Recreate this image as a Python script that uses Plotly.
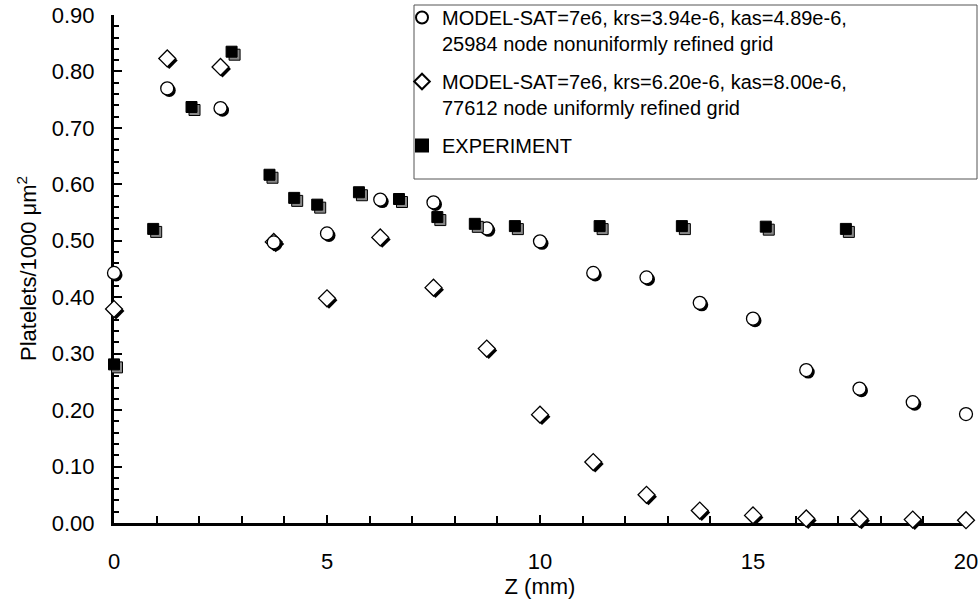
import plotly.graph_objects as go

# ---- data ----
z_model = [0, 1.25, 2.5, 3.75, 5, 6.25, 7.5, 8.75, 10, 11.25, 12.5, 13.75, 15, 16.25, 17.5, 18.75, 20]
model_nonuniform = [0.443, 0.770, 0.735, 0.497, 0.513, 0.573, 0.568, 0.522, 0.499, 0.443, 0.435,
                    0.390, 0.362, 0.271, 0.238, 0.214, 0.193]
model_uniform = [0.379, 0.823, 0.808, 0.498, 0.398, 0.506, 0.417, 0.309, 0.192, 0.108, 0.050,
                 0.022, 0.0135, 0.008, 0.0076, 0.006, 0.005]
z_exp = [0, 0.92, 1.82, 2.76, 3.65, 4.23, 4.77, 5.75, 6.69, 7.59, 8.47, 9.41, 11.4, 13.33, 15.3, 17.18]
experiment = [0.281, 0.521, 0.737, 0.835, 0.617, 0.576, 0.564, 0.586, 0.574, 0.542, 0.530,
              0.526, 0.526, 0.526, 0.525, 0.521]

name1 = "MODEL-SAT=7e6, krs=3.94e-6, kas=4.89e-6,<br>25984 node nonuniformly refined grid"
name2 = "MODEL-SAT=7e6, krs=6.20e-6, kas=8.00e-6,<br>77612 node uniformly refined grid"
name3 = "EXPERIMENT"
y_title = "Platelets/1000 \u03bcm<sup>2</sup>"
x_title = "Z (mm)"

X_RANGE = [0, 20]
Y_RANGE = [0, 0.9]
W, H = 979, 603
ML, MR, MT, MB = 114, 13, 15, 80
PW, PH = W - ML - MR, H - MT - MB
px_x = (X_RANGE[1] - X_RANGE[0]) / PW
px_y = (Y_RANGE[1] - Y_RANGE[0]) / PH

def shifted(xs, ys, dpx):
    return [x + dpx * px_x for x in xs], [y - dpx * px_y for y in ys]

def paper_x(px):
    return (px - ML) / PW

def paper_y(py):
    return (H - MB - py) / PH

FONT = "Arial, 'Liberation Sans', sans-serif"
fig = go.Figure()

# diamonds (shadow then marker)
sx, sy = shifted(z_model, model_uniform, 2)
fig.add_trace(go.Scatter(x=sx, y=sy, mode="markers", showlegend=False, hoverinfo="skip",
                         marker=dict(symbol="diamond", size=13, color="black", line=dict(width=0)),
                         cliponaxis=False))
fig.add_trace(go.Scatter(x=z_model, y=model_uniform, mode="markers", name=name2,
                         legendrank=2, legendgroup="b",
                         marker=dict(symbol="diamond", size=13, color="white",
                                     line=dict(color="black", width=1.3)),
                         cliponaxis=False))
# circles
sx, sy = shifted(z_model, model_nonuniform, 2)
fig.add_trace(go.Scatter(x=sx, y=sy, mode="markers", showlegend=False, hoverinfo="skip",
                         marker=dict(symbol="circle", size=13, color="black", line=dict(width=0)),
                         cliponaxis=False))
fig.add_trace(go.Scatter(x=z_model, y=model_nonuniform, mode="markers", name=name1,
                         legendrank=1, legendgroup="a",
                         marker=dict(symbol="circle", size=13, color="white",
                                     line=dict(color="black", width=1.3)),
                         cliponaxis=False))
# squares
sx, sy = shifted(z_exp, experiment, 3)
fig.add_trace(go.Scatter(x=sx, y=sy, mode="markers", showlegend=False, hoverinfo="skip",
                         marker=dict(symbol="square", size=11, color="#888888",
                                     line=dict(color="black", width=1)),
                         cliponaxis=False))
fig.add_trace(go.Scatter(x=z_exp, y=experiment, mode="markers", name=name3,
                         legendrank=3, legendgroup="c",
                         marker=dict(symbol="square", size=11, color="black",
                                     line=dict(color="black", width=1)),
                         cliponaxis=False))

# legend frame
fig.add_shape(type="rect", xref="paper", yref="paper",
              x0=paper_x(414), x1=paper_x(977), y0=paper_y(179), y1=paper_y(5),
              line=dict(color="#555555", width=1), fillcolor="rgba(0,0,0,0)", layer="above")

# y axis title
fig.add_annotation(text=y_title, xref="paper", yref="paper", x=paper_x(27), y=0.5,
                   xanchor="center", yanchor="middle", textangle=-90, showarrow=False,
                   font=dict(size=22, family=FONT, color="black"))

fig.update_layout(
    width=W, height=H,
    margin=dict(l=ML, r=MR, t=MT, b=MB, autoexpand=False),
    paper_bgcolor="white", plot_bgcolor="white",
    font=dict(family=FONT, color="black", size=22),
    showlegend=True,
    legend=dict(x=paper_x(402), y=paper_y(-2), xanchor="left", yanchor="top",
                bgcolor="rgba(0,0,0,0)", borderwidth=0,
                font=dict(size=20, family=FONT), valign="top",
                tracegroupgap=9, itemsizing="constant", itemwidth=30),
    xaxis=dict(range=X_RANGE, showgrid=False, zeroline=False, automargin=False,
               showline=True, linecolor="black", linewidth=3,
               ticks="inside", ticklen=8, tickwidth=2, tickcolor="black",
               tick0=0, dtick=5, ticklabelstandoff=17,
               minor=dict(ticks="inside", ticklen=7, tickwidth=2, tickcolor="black", dtick=1),
               tickfont=dict(size=22),
               title=dict(text=x_title, font=dict(size=22), standoff=0),
               layer="below traces"),
    yaxis=dict(range=Y_RANGE, showgrid=False, zeroline=False, automargin=False,
               showline=True, linecolor="black", linewidth=3,
               ticks="inside", ticklen=8, tickwidth=2, tickcolor="black",
               tick0=0, dtick=0.1, tickformat=".2f", ticklabelstandoff=12,
               minor=dict(ticks="inside", ticklen=5, tickwidth=2, tickcolor="black", dtick=0.02),
               tickfont=dict(size=22),
               layer="below traces"),
)

fig.write_html("out.html")
